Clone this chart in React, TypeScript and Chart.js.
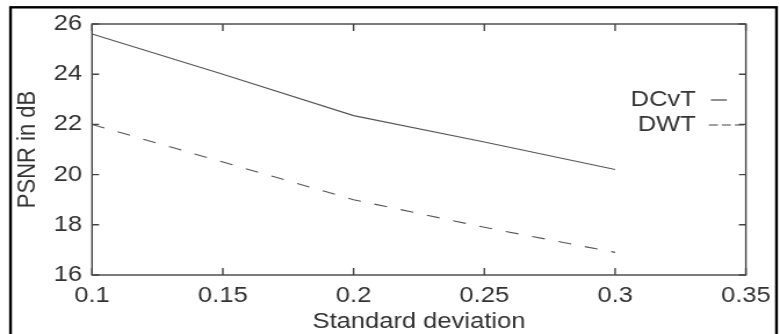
import React, { useEffect, useRef } from "react";
import { Chart, registerables } from "chart.js";

Chart.register(...registerables);

const stdDev = [0.1, 0.15, 0.2, 0.25, 0.3];
const dcvtPsnr = [25.6, 24.0, 22.35, 21.3, 20.2];
const dwtPsnr = [22.0, 20.5, 19.0, 17.9, 16.9];
const xTicks = [0.1, 0.15, 0.2, 0.25, 0.3, 0.35];
const yTicks = [16, 18, 20, 22, 24, 26];
const seriesNames = ["DCvT", "DWT"];
const xTitle = "Standard deviation";
const yTitle = "PSNR in dB";

// The original figure is horizontally stretched: draw on a narrower canvas
// and let CSS stretch it to the 780px width.
const CSS_W = 780;
const CSS_H = 334;
const STRETCH = 1.16;
const CANVAS_W = Math.round(CSS_W / STRETCH);
const sx = (px: number) => px / STRETCH;

const FONT = "'Liberation Sans', Arial, Helvetica, sans-serif";
const TEXT = "#333333";
const AXIS = "#444444";
const LINE = "#555555";
const TICK_FONT = 22;

const framePlugin = {
  id: "framePlugin",
  beforeDraw(chart: any) {
    const ctx = chart.ctx;
    ctx.save();
    ctx.fillStyle = "#ffffff";
    ctx.fillRect(0, 0, chart.width, chart.height);
    ctx.strokeStyle = "#000000";
    ctx.lineWidth = 2.4;
    const l = sx(10.5);
    const r = sx(776);
    ctx.strokeRect(l, 7.3, r - l, chart.height + 20);
    ctx.restore();
  },
  afterDraw(chart: any) {
    const ctx = chart.ctx;
    const { left, right, top, bottom } = chart.chartArea;
    const xs = chart.scales.x;
    const ys = chart.scales.y;
    ctx.save();
    ctx.strokeStyle = AXIS;
    ctx.lineWidth = 1.4;
    ctx.strokeRect(left, top, right - left, bottom - top);
    const tlx = 7;
    const tly = sx(7);
    ctx.beginPath();
    xs.ticks.forEach((t: any) => {
      const px = xs.getPixelForValue(t.value);
      ctx.moveTo(px, bottom);
      ctx.lineTo(px, bottom - tlx);
      ctx.moveTo(px, top);
      ctx.lineTo(px, top + tlx);
    });
    ys.ticks.forEach((t: any) => {
      const py = ys.getPixelForValue(t.value);
      ctx.moveTo(left, py);
      ctx.lineTo(left + tly, py);
      ctx.moveTo(right, py);
      ctx.lineTo(right - tly, py);
    });
    ctx.stroke();

    // legend (text followed by line sample, inside the plot at the right)
    ctx.font = `${TICK_FONT}px ${FONT}`;
    ctx.fillStyle = TEXT;
    ctx.textAlign = "right";
    ctx.textBaseline = "middle";
    const textRight = right - sx(50);
    const y1 = top + 76;
    const y2 = top + 101;
    chart.data.datasets.forEach((ds: any, i: number) => {
      const y = i === 0 ? y1 : y2;
      ctx.fillText(ds.label, textRight, y);
      ctx.strokeStyle = "#444444";
      ctx.lineWidth = 1.2;
      ctx.beginPath();
      if (i === 0) {
        ctx.setLineDash([]);
        ctx.moveTo(right - sx(35), y);
        ctx.lineTo(right - sx(19), y);
      } else {
        ctx.setLineDash([sx(9), sx(4)]);
        ctx.moveTo(right - sx(37), y);
        ctx.lineTo(right, y);
      }
      ctx.stroke();
    });
    ctx.setLineDash([]);
    ctx.restore();
  },
};

export default function App() {
  const ref = useRef<HTMLCanvasElement | null>(null);

  useEffect(() => {
    document.body.style.margin = "0";
    const canvas = ref.current;
    if (!canvas) return;
    const chart = new Chart(canvas, {
      type: "line",
      data: {
        datasets: [
          {
            label: seriesNames[0],
            data: stdDev.map((x, i) => ({ x, y: dcvtPsnr[i] })),
            borderColor: LINE,
            borderWidth: 1.1,
            pointRadius: 0,
            tension: 0,
            fill: false,
          },
          {
            label: seriesNames[1],
            data: stdDev.map((x, i) => ({ x, y: dwtPsnr[i] })),
            borderColor: LINE,
            borderWidth: 1.1,
            borderDash: [sx(13), sx(14)],
            pointRadius: 0,
            tension: 0,
            fill: false,
          },
        ],
      },
      options: {
        animation: false,
        responsive: false,
        maintainAspectRatio: false,
        devicePixelRatio: 1,
        layout: {
          padding: { top: 24, right: CANVAS_W - sx(747), left: 0, bottom: 0 },
        },
        plugins: {
          legend: { display: false },
          tooltip: { enabled: false },
        },
        scales: {
          x: {
            type: "linear",
            min: 0.1,
            max: 0.35,
            afterBuildTicks: (s: any) => {
              s.ticks = xTicks.map((v) => ({ value: v }));
            },
            afterFit: (s: any) => {
              s.height = 59;
            },
            grid: { display: false, drawTicks: false },
            border: { display: false },
            ticks: {
              padding: 8,
              maxRotation: 0,
              autoSkip: false,
              color: TEXT,
              font: { family: FONT, size: TICK_FONT },
              callback: (v: any) => String(v),
            },
            title: {
              display: true,
              text: xTitle,
              color: TEXT,
              font: { family: FONT, size: 22, lineHeight: 1 },
              padding: { top: 0, bottom: 1 },
            },
          },
          y: {
            type: "linear",
            min: 16,
            max: 26,
            afterBuildTicks: (s: any) => {
              s.ticks = yTicks.map((v) => ({ value: v }));
            },
            afterFit: (s: any) => {
              s.width = sx(92);
            },
            grid: { display: false, drawTicks: false },
            border: { display: false },
            ticks: {
              padding: sx(10),
              autoSkip: false,
              color: TEXT,
              font: { family: FONT, size: TICK_FONT },
            },
            title: {
              display: true,
              text: yTitle,
              color: TEXT,
              font: { family: FONT, size: 22, lineHeight: 1 },
              padding: { top: sx(28) - 11, bottom: 0 },
            },
          },
        },
      },
      plugins: [framePlugin],
    } as any);
    return () => chart.destroy();
  }, []);

  return (
    <canvas
      ref={ref}
      width={CANVAS_W}
      height={CSS_H}
      style={{ display: "block", width: `${CSS_W}px`, height: `${CSS_H}px` }}
    />
  );
}
